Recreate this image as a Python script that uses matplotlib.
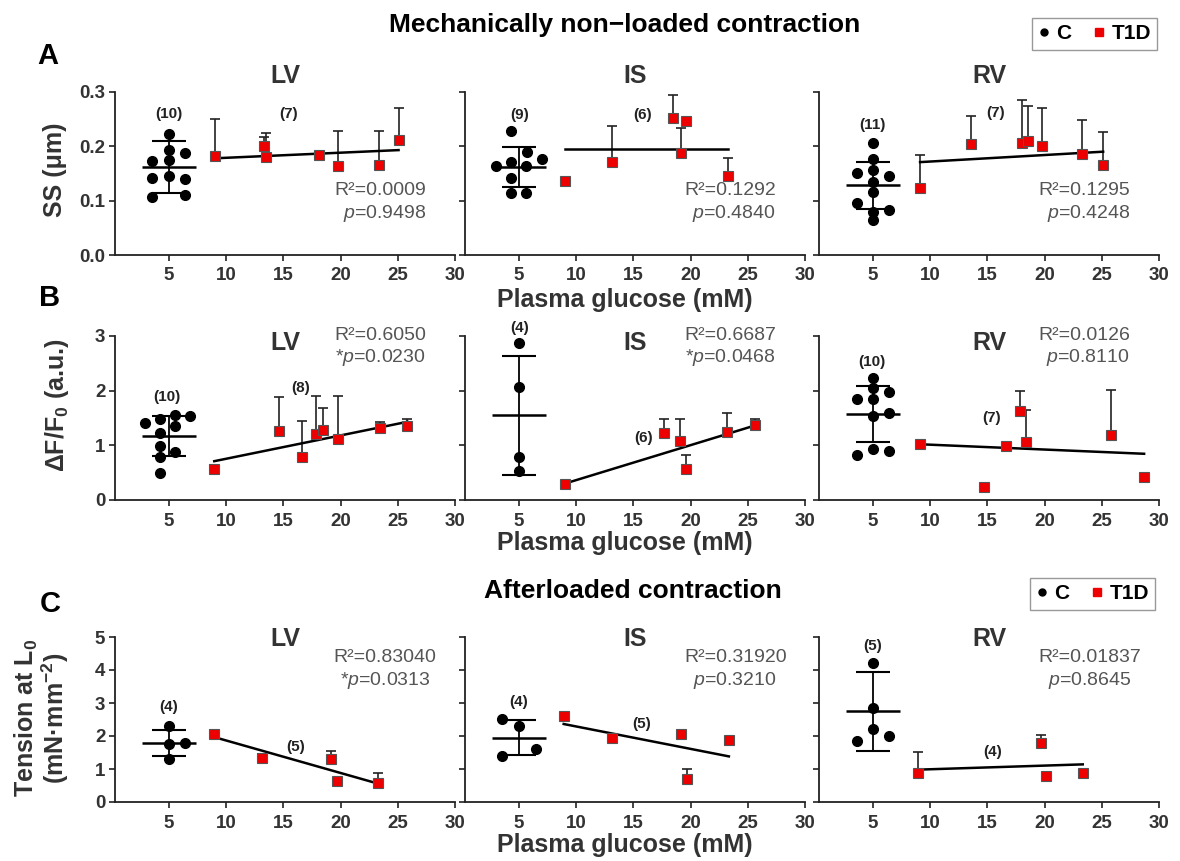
import numpy as np
import matplotlib.pyplot as plt
from matplotlib.lines import Line2D

plt.rcParams['font.family'] = ['Liberation Sans', 'DejaVu Sans']
plt.rcParams['mathtext.fontset'] = 'custom'
plt.rcParams['mathtext.rm'] = 'Liberation Sans'
plt.rcParams['mathtext.it'] = 'Liberation Sans:italic'
plt.rcParams['mathtext.bf'] = 'Liberation Sans:bold'

# ---------------- data ----------------
# A: sarcomere shortening (um), mechanically non-loaded
a_lv_ctrl_x = [5, 5, 6.45, 3.55, 5, 3.55, 5, 6.45, 3.55, 6.45]
a_lv_ctrl_y = [0.222, 0.194, 0.188, 0.173, 0.175, 0.141, 0.145, 0.139, 0.106, 0.110]
a_lv_t1d_x = [9.07, 13.28, 13.5, 18.14, 19.74, 23.33, 25.07]
a_lv_t1d_y = [0.182, 0.200, 0.181, 0.184, 0.164, 0.165, 0.212]
a_lv_t1d_sd = [0.068, 0.017, 0.044, 0.004, 0.064, 0.063, 0.059]

a_is_ctrl_x = [4.36, 5.72, 4.36, 7.02, 2.98, 5.66, 4.36, 4.36, 5.66]
a_is_ctrl_y = [0.228, 0.189, 0.171, 0.176, 0.164, 0.163, 0.142, 0.115, 0.115]
a_is_t1d_x = [9.02, 13.18, 18.5, 19.62, 19.19, 23.24]
a_is_t1d_y = [0.137, 0.171, 0.252, 0.246, 0.187, 0.146]
a_is_t1d_sd = [0, 0.067, 0.043, 0, 0.046, 0.033]

a_rv_ctrl_x = [5, 5, 3.65, 5, 6.4, 5, 5, 3.65, 6.4, 5, 5]
a_rv_ctrl_y = [0.206, 0.177, 0.151, 0.157, 0.146, 0.134, 0.116, 0.095, 0.082, 0.080, 0.065]
a_rv_t1d_x = [9.13, 13.58, 18.05, 18.58, 19.74, 23.31, 25.12]
a_rv_t1d_y = [0.123, 0.204, 0.207, 0.209, 0.201, 0.185, 0.165]
a_rv_t1d_sd = [0.061, 0.051, 0.078, 0.065, 0.070, 0.063, 0.061]

# B: calcium transient amplitude dF/F0
b_lv_ctrl_x = [2.95, 4.2, 5.5, 6.85, 5.5, 4.2, 4.2, 5.5, 4.2, 4.2]
b_lv_ctrl_y = [1.41, 1.49, 1.55, 1.54, 1.35, 1.22, 0.99, 0.87, 0.78, 0.49]
b_lv_t1d_x = [8.97, 14.6, 16.6, 17.86, 18.45, 19.82, 23.43, 25.84]
b_lv_t1d_y = [0.565, 1.26, 0.79, 1.20, 1.28, 1.12, 1.31, 1.36]
b_lv_t1d_sd = [0.075, 0.62, 0.66, 0.70, 0.40, 0.78, 0.11, 0.13]

b_is_ctrl_x = [5, 5, 5, 5]
b_is_ctrl_y = [2.87, 2.06, 0.78, 0.53]
b_is_t1d_x = [9.0, 17.7, 19.1, 19.6, 23.2, 25.6]
b_is_t1d_y = [0.30, 1.22, 1.08, 0.57, 1.25, 1.37]
b_is_t1d_sd = [0, 0.27, 0.41, 0.25, 0.35, 0.12]

b_rv_ctrl_x = [5, 5, 3.64, 5, 6.45, 5, 6.45, 5, 3.64, 6.45]
b_rv_ctrl_y = [2.24, 2.05, 1.85, 1.85, 1.97, 1.53, 1.59, 0.93, 0.83, 0.90]
b_rv_t1d_x = [9.1, 14.68, 16.62, 17.89, 18.41, 25.8, 28.7]
b_rv_t1d_y = [1.02, 0.23, 0.98, 1.62, 1.06, 1.18, 0.42]
b_rv_t1d_sd = [0, 0, 0, 0.37, 0.59, 0.84, 0]

# C: tension at L0, afterloaded
c_lv_ctrl_x = [5, 5, 6.39, 5]
c_lv_ctrl_y = [2.29, 1.77, 1.80, 1.31]
c_lv_t1d_x = [8.95, 13.1, 19.18, 19.66, 23.27]
c_lv_t1d_y = [2.07, 1.33, 1.31, 0.63, 0.58]
c_lv_t1d_sd = [0, 0.13, 0.24, 0, 0.31]

c_is_ctrl_x = [3.54, 5, 6.49, 3.54]
c_is_ctrl_y = [2.51, 2.30, 1.60, 1.40]
c_is_t1d_x = [8.92, 13.18, 19.2, 19.72, 23.35]
c_is_t1d_y = [2.61, 1.94, 2.05, 0.71, 1.87]
c_is_t1d_sd = [0, 0, 0, 0.28, 0]

c_rv_ctrl_x = [5, 5, 5, 3.66, 6.43]
c_rv_ctrl_y = [4.22, 2.85, 2.22, 1.85, 1.99]
c_rv_t1d_x = [8.91, 19.71, 20.11, 23.34]
c_rv_t1d_y = [0.89, 1.79, 0.78, 0.89]
c_rv_t1d_sd = [0.63, 0.25, 0, 0]

# control mean / SD as plotted (rows A, B, C; columns LV, IS, RV)
ctrl_mean = [[0.162, 0.162, 0.128], [1.17, 1.55, 1.57], [1.79, 1.95, 2.75]]
ctrl_sd = [[0.047, 0.036, 0.044], [0.365, 1.09, 0.51], [0.40, 0.54, 1.19]]

# regression lines (slope, intercept)
fit_slope = [[0.00094, 0.0, 0.0012], [0.0427, 0.064, -0.0089], [-0.0985, -0.068, 0.0111]]
fit_icpt = [[0.1695, 0.195, 0.160], [0.327, -0.277, 1.101], [2.85, 2.97, 0.881]]

r2_text = [['0.0009', '0.1292', '0.1295'],
           ['0.6050', '0.6687', '0.0126'],
           ['0.83040', '0.31920', '0.01837']]
p_text = [['0.9498', '0.4840', '0.4248'],
          ['0.0230', '0.0468', '0.8110'],
          ['0.0313', '0.3210', '0.8645']]
p_signif = [[False, False, False], [True, True, False], [True, False, False]]

regions = ['LV', 'IS', 'RV']
x_ticks = [5, 10, 15, 20, 25, 30]
y_ticks = [[0.0, 0.1, 0.2, 0.3], [0, 1, 2, 3], [0, 1, 2, 3, 4, 5]]
y_ticklabels = [['0.0', '0.1', '0.2', '0.3'], ['0', '1', '2', '3'], ['0', '1', '2', '3', '4', '5']]

panels = [
    [(a_lv_ctrl_x, a_lv_ctrl_y, a_lv_t1d_x, a_lv_t1d_y, a_lv_t1d_sd),
     (a_is_ctrl_x, a_is_ctrl_y, a_is_t1d_x, a_is_t1d_y, a_is_t1d_sd),
     (a_rv_ctrl_x, a_rv_ctrl_y, a_rv_t1d_x, a_rv_t1d_y, a_rv_t1d_sd)],
    [(b_lv_ctrl_x, b_lv_ctrl_y, b_lv_t1d_x, b_lv_t1d_y, b_lv_t1d_sd),
     (b_is_ctrl_x, b_is_ctrl_y, b_is_t1d_x, b_is_t1d_y, b_is_t1d_sd),
     (b_rv_ctrl_x, b_rv_ctrl_y, b_rv_t1d_x, b_rv_t1d_y, b_rv_t1d_sd)],
    [(c_lv_ctrl_x, c_lv_ctrl_y, c_lv_t1d_x, c_lv_t1d_y, c_lv_t1d_sd),
     (c_is_ctrl_x, c_is_ctrl_y, c_is_t1d_x, c_is_t1d_y, c_is_t1d_sd),
     (c_rv_ctrl_x, c_rv_ctrl_y, c_rv_t1d_x, c_rv_t1d_y, c_rv_t1d_sd)],
]

# ---------------- layout ----------------
W, H = 1180, 861
col_left = [115, 465, 819]
ax_w = 340
row_top = [92, 336, 637]
row_bot = [255, 500, 802]
title_y = [1.10, 0.955, 0.99]
stat_y = [0.32, 0.93, 0.80]
stat_x = [0.915, 0.915, 0.795]   # per row
stat_ha = ['right', 'right', 'center']
# positions of the (n) labels in data units: (ctrl x, ctrl y, t1d x, t1d y)
n_pos = [[(5, 0.26, 15.5, 0.26), (5.1, 0.258, 15.8, 0.258), (5, 0.239, 15.7, 0.261)],
         [(4.8, 1.88, 16.5, 2.05), (5.1, 3.14, 15.9, 1.13), (4.9, 2.52, 15.4, 1.50)],
         [(5, 2.88, 16.1, 1.67), (5, 3.03, 15.7, 2.36), (5, 4.73, 15.5, 1.52)]]

dark = '#333333'
fig = plt.figure(figsize=(W / 100, H / 100), dpi=100)

for r in range(3):
    for c in range(3):
        cx, cy, tx, ty, tsd = panels[r][c]
        ax = fig.add_axes([col_left[c] / W, 1 - row_bot[r] / H, ax_w / W,
                           (row_bot[r] - row_top[r]) / H])
        ax.set_xlim(0.3, 30)
        ax.set_ylim(0, y_ticks[r][-1])

        # control: mean line, SD bar, dots
        m, s = ctrl_mean[r][c], ctrl_sd[r][c]
        ax.hlines(m, 5 - 2.35, 5 + 2.35, color='k', lw=1.8, zorder=2)
        ax.errorbar(5, m, yerr=s, fmt='none', ecolor='k', elinewidth=1.3,
                    capsize=12, capthick=1.5, zorder=2)
        ax.plot(cx, cy, 'o', color='k', ms=7, zorder=3)

        # T1D: upper SD only, squares, regression line
        ax.errorbar(tx, ty, yerr=[np.zeros(len(tsd)), tsd], fmt='none',
                    ecolor='#222222', elinewidth=1.2, capsize=3.5, capthick=1.2, zorder=2)
        xs = np.array([min(tx), max(tx)])
        ax.plot(xs, fit_slope[r][c] * xs + fit_icpt[r][c], color='k', lw=1.8, zorder=3)
        ax.plot(tx, ty, 's', color='#ee0000', mec='#555555', mew=0.8, ms=6.5, zorder=4)

        # n labels
        nx1, ny1, nx2, ny2 = n_pos[r][c]
        ax.text(nx1, ny1, f'({len(cy)})', ha='center', va='center', fontsize=11,
                fontweight='bold', color='#222222')
        ax.text(nx2, ny2, f'({len(ty)})', ha='center', va='center', fontsize=11,
                fontweight='bold', color='#222222')

        # stats
        star = '*' if p_signif[r][c] else ''
        ax.text(stat_x[r], stat_y[r],
                f'R²={r2_text[r][c]}\n{star}$p$={p_text[r][c]}',
                transform=ax.transAxes, ha=stat_ha[r], va='center',
                multialignment=stat_ha[r], fontsize=14, color='#555555', linespacing=1.25)

        ax.text(0.5, title_y[r], regions[c], transform=ax.transAxes, ha='center',
                va='center', fontsize=18, fontweight='bold', color=dark)

        for side in ['top', 'right']:
            ax.spines[side].set_visible(False)
        for side in ['left', 'bottom']:
            ax.spines[side].set_linewidth(1.3)
            ax.spines[side].set_color('#222222')
        ax.set_xticks(x_ticks, [str(t) for t in x_ticks], fontweight='bold')
        if c == 0:
            ax.set_yticks(y_ticks[r], y_ticklabels[r], fontweight='bold')
        else:
            ax.set_yticks(y_ticks[r])
            ax.tick_params(axis='y', labelleft=False)
        ax.tick_params(direction='out', length=4, width=1.2, color='#222222',
                       labelsize=13.5, labelcolor=dark)
        ax.tick_params(axis='x', pad=5)
        ax.tick_params(axis='y', pad=3)

# axis labels
for yc in [300, 543, 845]:
    fig.text(625 / W, 1 - yc / H, 'Plasma glucose (mM)', ha='center', va='center',
             fontsize=18, fontweight='bold', color=dark)
fig.text(55 / W, 1 - 170 / H, 'SS (μm)', rotation=90, ha='center', va='center',
         fontsize=18, fontweight='bold', color=dark)
fig.text(57 / W, 1 - 405 / H, r'ΔF/F$_\mathbf{0}$ (a.u.)', rotation=90, ha='center',
         va='center', fontsize=18, fontweight='bold', color=dark)
fig.text(26 / W, 1 - 718 / H, r'Tension at L$_\mathbf{0}$', rotation=90, ha='center',
         va='center', fontsize=18, fontweight='bold', color=dark)
fig.text(55 / W, 1 - 718 / H, r'(mN·mm$^\mathbf{-2}$)', rotation=90, ha='center',
         va='center', fontsize=18, fontweight='bold', color=dark)

# section titles and panel letters
fig.text(625 / W, 1 - 25 / H, 'Mechanically non\u2212loaded contraction', ha='center',
         va='center', fontsize=19, fontweight='bold', color='k')
fig.text(633 / W, 1 - 591 / H, 'Afterloaded contraction', ha='center', va='center',
         fontsize=19, fontweight='bold', color='k')
for letter, (lx, ly) in zip('ABC', [(48, 56), (50, 298), (50, 604)]):
    fig.text(lx / W, 1 - ly / H, letter, ha='center', va='center', fontsize=21,
             fontweight='bold', color='k')

# legends
handles = [Line2D([], [], marker='o', color='k', ls='none', ms=5),
           Line2D([], [], marker='s', color='#ee0000', mec='#ee0000', ls='none', ms=6)]
for lx, ly in [(1157, 18), (1155, 578)]:
    fig.legend(handles, ['C', 'T1D'], loc='upper right', bbox_to_anchor=(lx / W, 1 - ly / H),
               ncol=2, frameon=True, fancybox=False, edgecolor='#999999', framealpha=1,
               handlelength=0.6, handletextpad=0.3, columnspacing=1.0, borderpad=0.3,
               borderaxespad=0, prop={'weight': 'bold', 'size': 15})

fig.savefig('out.png', dpi=100)
